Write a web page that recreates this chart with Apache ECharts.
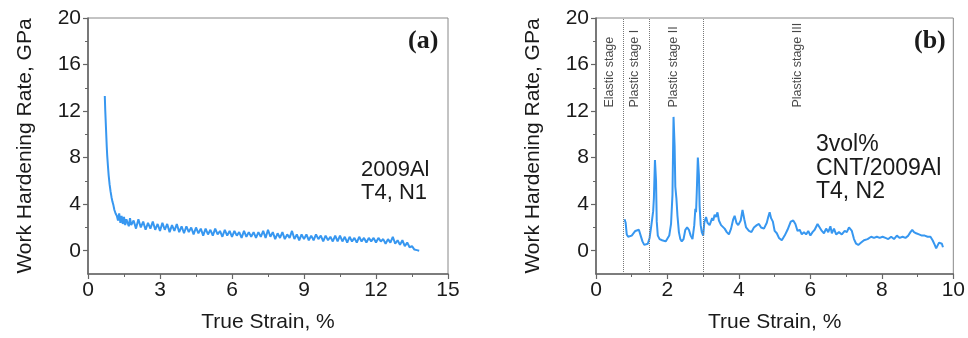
<!DOCTYPE html>
<html>
<head>
<meta charset="utf-8">
<script src="https://cdn.jsdelivr.net/npm/echarts@6/dist/echarts.min.js"></script>
<style>html,body{margin:0;padding:0;background:#fff}#c{width:968px;height:338px}</style>
</head>
<body>
<div id="c"></div>
<script>
// Panel (a): 2009Al T4, N1
const strainA = [0.70,0.72,0.75,0.78,0.80,0.83,0.86,0.90,0.94,0.98,1.02,1.06,1.10,1.15,1.20,1.25,1.30,1.35,1.40,1.45,1.50,1.55,1.60,1.70,1.75,1.80,1.90,2.00,2.10,2.20,2.30,2.40,2.50,2.60,2.70,2.80,2.90,3.00,3.10,3.20,3.30,3.40,3.50,3.60,3.70,3.80,3.90,4.00,4.10,4.20,4.30,4.40,4.50,4.60,4.70,4.80,4.90,5.00,5.10,5.20,5.30,5.40,5.50,5.60,5.70,5.80,5.90,6.00,6.10,6.20,6.30,6.40,6.50,6.60,6.70,6.80,6.90,7.00,7.10,7.20,7.30,7.40,7.50,7.60,7.70,7.80,7.90,8.00,8.10,8.20,8.30,8.40,8.50,8.60,8.70,8.80,8.90,9.00,9.10,9.20,9.30,9.40,9.50,9.60,9.70,9.80,9.90,10.00,10.10,10.20,10.30,10.40,10.50,10.60,10.70,10.80,10.90,11.00,11.10,11.20,11.30,11.40,11.50,11.60,11.70,11.80,11.90,12.00,12.10,12.20,12.30,12.40,12.50,12.60,12.70,12.80,12.90,13.00,13.10,13.20,13.30,13.40,13.50,13.60,13.70,13.80];
const rateA = [13.3,12.0,10.5,9.0,8.2,7.3,6.5,5.7,5.1,4.6,4.2,3.9,3.5,3.2,3.0,2.6,3.2,2.4,3.0,2.3,2.9,2.2,2.7,2.1,2.8,2.2,2.6,1.9,2.7,2.0,2.5,1.8,2.4,1.9,2.5,1.8,2.3,1.7,2.4,1.8,2.3,1.6,2.2,1.7,2.3,1.6,2.1,1.5,2.1,1.6,2.0,1.4,2.0,1.5,1.9,1.3,1.9,1.4,1.8,1.3,1.9,1.4,1.7,1.2,1.8,1.3,1.7,1.2,1.7,1.3,1.6,1.1,1.7,1.2,1.6,1.2,1.6,1.1,1.6,1.2,1.7,1.1,1.8,1.2,1.6,1.0,1.5,1.1,1.6,1.0,1.4,1.1,1.7,1.0,1.4,0.9,1.4,1.0,1.4,0.9,1.3,0.9,1.4,1.0,1.3,0.8,1.3,0.9,1.2,0.8,1.3,0.8,1.3,0.8,1.2,0.7,1.2,0.8,1.1,0.7,1.2,0.8,1.1,0.7,1.1,0.8,1.1,0.7,1.1,0.8,1.0,0.6,1.0,0.7,1.2,0.6,0.9,0.5,0.9,0.4,0.7,0.3,0.4,0.1,0.05,0.0];

// Panel (b): 3vol% CNT/2009Al T4, N2
const strainB = [0.80,0.83,0.86,0.90,0.95,1.00,1.05,1.10,1.15,1.20,1.25,1.30,1.35,1.40,1.45,1.50,1.55,1.60,1.62,1.65,1.68,1.70,1.73,1.78,1.85,1.90,1.95,2.00,2.05,2.10,2.14,2.17,2.20,2.22,2.25,2.28,2.32,2.36,2.40,2.45,2.50,2.55,2.60,2.65,2.70,2.75,2.78,2.80,2.82,2.85,2.88,2.90,2.93,2.96,3.00,3.03,3.08,3.12,3.18,3.25,3.28,3.32,3.36,3.40,3.44,3.50,3.55,3.60,3.66,3.72,3.78,3.84,3.88,3.93,3.98,4.05,4.10,4.15,4.20,4.28,4.35,4.42,4.50,4.56,4.62,4.70,4.78,4.82,4.86,4.90,4.95,5.00,5.06,5.12,5.20,5.28,5.36,5.45,5.52,5.58,5.64,5.70,5.76,5.82,5.88,5.94,6.00,6.06,6.12,6.20,6.26,6.32,6.38,6.44,6.50,6.56,6.60,6.66,6.72,6.80,6.88,6.96,7.02,7.08,7.12,7.16,7.22,7.28,7.34,7.42,7.50,7.60,7.70,7.78,7.86,7.94,8.02,8.10,8.18,8.26,8.34,8.42,8.50,8.58,8.66,8.74,8.80,8.85,8.90,8.96,9.04,9.12,9.20,9.28,9.36,9.42,9.48,9.52,9.56,9.60,9.64,9.68,9.71];
const rateB = [2.7,2.4,1.4,1.2,1.3,1.3,1.4,1.7,1.8,1.8,1.3,0.8,0.5,0.45,0.6,1.1,2.2,3.4,4.5,7.8,6.0,2.5,1.3,1.0,0.9,1.0,0.8,0.9,1.3,2.3,4.8,11.5,9.0,5.5,4.5,3.0,1.6,1.0,0.8,1.0,1.8,2.0,1.8,1.3,1.0,2.2,3.6,3.3,5.0,8.0,6.5,3.8,2.2,1.6,1.3,2.4,2.9,2.4,2.2,2.8,2.6,3.1,2.9,3.3,2.6,2.2,2.3,1.9,1.6,1.4,1.9,2.7,3.0,2.4,2.2,2.6,3.5,2.7,2.0,1.7,1.6,2.0,2.2,2.3,2.0,1.9,2.4,2.9,3.3,2.8,2.5,1.7,1.5,1.1,0.9,1.3,1.8,2.5,2.6,2.3,1.7,1.8,1.4,1.6,1.4,1.7,1.3,1.6,1.8,2.3,2.0,1.7,1.5,1.9,1.6,2.1,1.5,1.9,1.4,1.6,1.4,1.7,1.6,2.0,2.1,1.7,1.0,0.6,0.5,0.7,0.9,1.0,1.2,1.1,1.2,1.1,1.2,1.1,1.0,1.2,1.0,1.3,1.1,1.2,1.1,1.3,1.6,1.8,1.6,1.5,1.4,1.3,1.3,1.2,1.2,0.9,0.5,0.2,0.3,0.7,0.85,0.6,0.3];

const stageBounds = [0.75, 1.5, 3.0];
const stageNames = ['Elastic stage', 'Plastic stage I', 'Plastic stage II', 'Plastic stage III'];
const stageLabelX = [0.38, 1.07, 2.18, 5.64];
const stageLabelY = 12.3;

const yTicks = [0, 4, 8, 12, 16, 20];
const yMinorTicks = [2, 6, 10, 14, 18];

const yName = 'Work Hardening Rate, GPa';
const xName = 'True Strain, %';

const LINE = '#3797f0';
const AX = '#666';
const TXT = '#1a1a1a';
const FONT = '"Liberation Sans", Arial, sans-serif';

function zip(a, b) { return a.map((v, i) => [v, b[i]]); }

function xAxisCfg(grid, max, interval) {
  return {
    type: 'value', gridIndex: grid, min: 0, max: max, interval: interval,
    name: xName, nameLocation: 'middle', nameGap: 38,
    nameTextStyle: { fontSize: 21, color: TXT, fontFamily: FONT },
    axisLine: { show: true, onZero: false, lineStyle: { color: AX, width: 1.6 } },
    axisTick: { show: true, inside: false, length: 5, lineStyle: { color: AX, width: 1.2 } },
    minorTick: { show: true, splitNumber: 2, length: 3, lineStyle: { color: AX, width: 1 } },
    axisLabel: { fontSize: 21, color: TXT, fontFamily: FONT, margin: 6 },
    splitLine: { show: false }, minorSplitLine: { show: false }
  };
}
function yAxisCfg(grid) {
  return {
    type: 'value', gridIndex: grid, min: -2, max: 20,
    name: yName, nameLocation: 'middle', nameGap: 52,
    nameTextStyle: { fontSize: 21, color: TXT, fontFamily: FONT },
    axisLine: { show: true, onZero: false, lineStyle: { color: AX, width: 1.6 } },
    axisTick: { show: true, inside: false, length: 5, customValues: yTicks, lineStyle: { color: AX, width: 1.2 } },
    axisLabel: { fontSize: 21, color: TXT, fontFamily: FONT, margin: 7, customValues: yTicks },
    splitLine: { show: false }
  };
}
function yMinorCfg(grid) {
  return {
    type: 'value', gridIndex: grid, min: -2, max: 20, position: 'left',
    axisLine: { show: false },
    axisTick: { show: true, inside: false, length: 3, customValues: yMinorTicks, lineStyle: { color: AX, width: 1 } },
    axisLabel: { show: false },
    splitLine: { show: false }
  };
}

const chart = echarts.init(document.getElementById('c'), null, { renderer: 'canvas' });
chart.setOption({
  animation: false,
  backgroundColor: '#fff',
  grid: [
    { left: 88, top: 18, width: 360, height: 256, show: true, borderColor: '#888', borderWidth: 1, backgroundColor: 'transparent' },
    { left: 596, top: 18, width: 360, height: 256, show: true, borderColor: '#888', borderWidth: 1, backgroundColor: 'transparent' }
  ],
  xAxis: [xAxisCfg(0, 15, 3), xAxisCfg(1, 10, 2)],
  yAxis: [yAxisCfg(0), yAxisCfg(1), yMinorCfg(0), yMinorCfg(1)],
  series: [
    {
      type: 'line', xAxisIndex: 0, yAxisIndex: 0, data: zip(strainA, rateA),
      showSymbol: false, symbol: 'none', lineStyle: { color: LINE, width: 2 }, silent: true
    },
    {
      type: 'line', xAxisIndex: 1, yAxisIndex: 1, data: zip(strainB, rateB),
      showSymbol: false, symbol: 'none', lineStyle: { color: LINE, width: 2 }, silent: true,
      markLine: {
        silent: true, symbol: ['none', 'none'], label: { show: false },
        lineStyle: { color: '#777', type: 'dotted', width: 1 },
        data: stageBounds.map(v => ({ xAxis: v }))
      }
    },
    {
      type: 'scatter', xAxisIndex: 1, yAxisIndex: 1, symbolSize: 0, silent: true,
      data: stageNames.map((n, i) => ({ name: n, value: [stageLabelX[i], stageLabelY] })),
      label: {
        show: true, position: 'inside', rotate: 90, align: 'left', verticalAlign: 'middle',
        formatter: p => p.name, fontSize: 12.5, color: TXT, fontFamily: FONT
      }
    }
  ],
  graphic: [
    { type: 'text', left: 408, top: 28, style: { text: '(a)', font: 'bold 26px "Liberation Serif", "Times New Roman", serif', fill: TXT } },
    { type: 'text', left: 914, top: 28, style: { text: '(b)', font: 'bold 26px "Liberation Serif", "Times New Roman", serif', fill: TXT } },
    { type: 'text', left: 361, top: 158, style: { text: '2009Al\nT4, N1', font: '22px "Liberation Sans", Arial, sans-serif', fill: TXT, lineHeight: 23 } },
    { type: 'text', left: 816, top: 133, style: { text: '3vol%\nCNT/2009Al\nT4, N2', font: '23px "Liberation Sans", Arial, sans-serif', fill: TXT, lineHeight: 23.5 } }
  ]
});
</script>
</body>
</html>
